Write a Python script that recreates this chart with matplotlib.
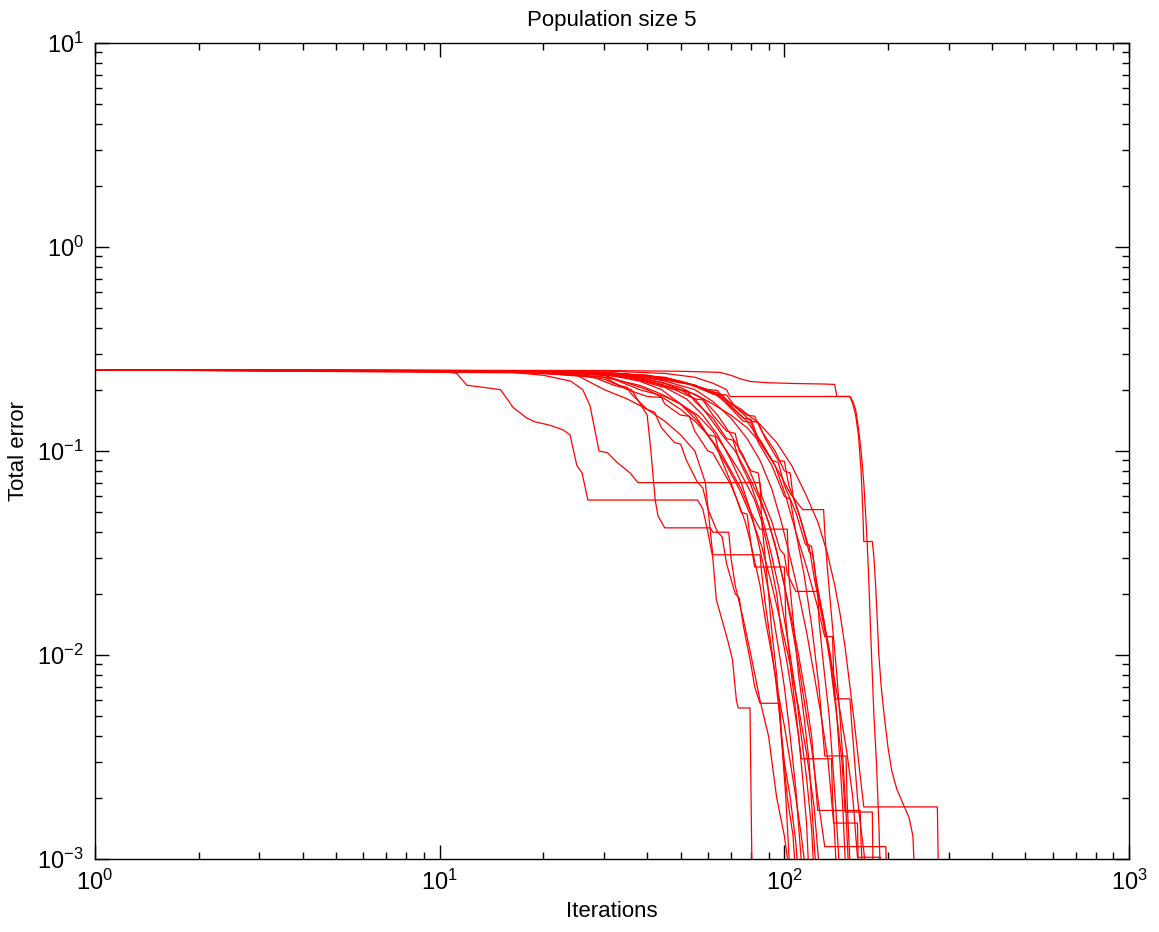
import numpy as np
import matplotlib
matplotlib.use('Agg')
import matplotlib.pyplot as plt
from matplotlib.ticker import LogLocator, LogFormatterMathtext, NullFormatter

plt.rcParams['font.family'] = ['Liberation Sans', 'DejaVu Sans']
plt.rcParams['mathtext.fontset'] = 'custom'
plt.rcParams['mathtext.rm'] = 'Liberation Sans'

#---------- runs (iteration, total error)
it01 = [1, 10, 11.2, 12, 15, 15.7, 16.3, 17.9, 18.9, 20.8, 22.8, 23.9, 25, 25.9, 26.9, 56, 58, 60, 62, 63.5, 66, 68.5, 70.7, 72.6, 73.5, 79.5, 80.6]
er01 = [.25, .248, .24, .21, .2, .18, .164, .145, .139, .134, .127, .12, .085, .078, .0575, .0575, .052, .04, .03, .0186, .0148, .0118, .0095, .006, .0055, .0055, .0008]
it02 = [1, 15, 20, 24, 26, 27.3, 29, 30.7, 32.7, 35.7, 37.6, 85, 86, 88, 90, 92, 95, 98, 101, 104]
er02 = [.25, .246, .235, .22, .2, .167, .1, .098, .088, .078, .07, .07, .045, .03, .02, .013, .008, .004, .002, .0008]
it03 = [1, 12, 20, 28, 32, 36, 40, 41, 42.2, 43, 45, 61, 62, 69, 70, 72, 76, 80, 85, 90, 95, 100, 104]
er03 = [.25, .248, .24, .23, .21, .2, .15, .1, .0575, .048, .042, .042, .040, .040, .03, .022, .015, .01, .006, .004, .002, .0013, .0008]
it04 = [1, 15, 25, 30, 33, 35, 36, 40, 42, 44, 48, 50, 52, 56, 58, 60, 64, 66, 68, 72, 74, 76, 80, 82, 85, 97, 98, 102, 106, 108]
er04 = [.25, .247, .235, .225, .21, .205, .19, .16, .155, .13, .11, .108, .09, .07, .066, .052, .04, .038, .028, .02, .019, .014, .009, .007, .0058, .0058, .004, .002, .0013, .0008]
it05 = [1, 15, 25, 30, 35, 40, 45, 50, 55, 59, 62, 85, 86, 88, 91, 94, 97, 100, 104, 108, 110]
er05 = [.25, .247, .235, .2, .18, .16, .14, .12, .1, .07, .031, .031, .025, .018, .012, .008, .005, .003, .002, .0012, .0008]
it06 = [1, 20, 30, 35, 40, 44, 45, 50, 53, 55, 60, 62, 65, 70, 73, 77, 80, 82, 100, 101, 104, 107, 110, 113, 116, 118]
er06 = [.25, .243, .23, .2, .185, .183, .17, .15, .148, .125, .1, .098, .085, .068, .0575, .045, .035, .027, .027, .015, .009, .006, .004, .0025, .0015, .0008]
it07 = [1, 20, 30, 40, 45, 50, 55, 60, 65, 70, 75, 80, 85, 102, 103, 106, 110, 114, 118, 121, 124]
er07 = [.25, .245, .235, .2, .18, .16, .14, .12, .1, .08, .065, .05, .0414, .0414, .025, .015, .008, .005, .003, .0015, .0008]
it08 = [1, 20, 30, 38, 45, 50, 56, 62, 68, 74, 78, 82, 86, 90, 95, 98, 102, 106, 110, 112, 137, 138, 140, 142]
er08 = [.25, .246, .235, .2, .185, .17, .15, .125, .1, .08, .068, .0575, .045, .032, .02, .013, .009, .006, .004, .0031, .0031, .002, .0013, .0008]
it09 = [1, 20, 35, 45, 55, 62, 70, 78, 85, 92, 98, 104, 113, 130, 131, 133, 136, 139, 142, 145, 148, 151, 154]
er09 = [.25, .246, .235, .21, .19, .17, .15, .13, .11, .09, .075, .062, .0516, .0516, .04, .028, .018, .012, .008, .005, .003, .0017, .0008]
it10 = [1, 20, 30, 40, 48, 55, 58, 62, 68, 72, 74, 80, 84, 86, 92, 97, 100, 102, 108, 125, 126, 129, 132, 135, 138, 141, 145]
er10 = [.25, .247, .24, .22, .2, .18, .178, .15, .125, .122, .1, .08, .078, .06, .045, .033, .031, .025, .0205, .0205, .015, .01, .007, .005, .003, .0018, .0008]
it11 = [1, 20, 35, 45, 50, 55, 60, 66, 72, 78, 84, 90, 95, 100, 105, 110, 115, 120, 125, 166, 167, 169]
er11 = [.25, .246, .235, .215, .2, .18, .15, .12, .1, .078, .06, .045, .032, .022, .015, .01, .0065, .004, .00173, .00173, .0012, .0008]
it12 = [1, 25, 40, 55, 62, 66, 70, 78, 82, 86, 94, 100, 104, 106, 112, 118, 121, 124, 130, 136, 140, 155, 157, 160, 163, 166, 170, 173]
er12 = [.25, .245, .23, .21, .19, .188, .17, .15, .148, .125, .1, .08, .078, .06, .045, .032, .031, .022, .015, .01, .0061, .0061, .0045, .003, .002, .0015, .0011, .0008]
it13 = [1, 20, 30, 40, 50, 58, 64, 70, 76, 82, 88, 94, 100, 105, 110, 115, 120, 125, 131, 197, 198]
er13 = [.25, .246, .238, .225, .205, .18, .15, .12, .095, .07, .05, .035, .022, .014, .009, .0055, .0035, .002, .00115, .00115, .0008]
it14 = [1, 25, 40, 50, 60, 64, 68, 76, 80, 84, 92, 96, 100, 108, 115, 118, 122, 128, 134, 140, 146, 152, 158, 163, 190, 191]
er14 = [.25, .245, .235, .22, .2, .198, .175, .145, .143, .115, .09, .088, .068, .05, .035, .034, .024, .016, .011, .0075, .005, .0033, .002, .00102, .00102, .0008]
it15 = [1, 20, 35, 45, 55, 62, 70, 78, 85, 92, 98, 104, 110, 116, 122, 128, 134, 139, 163, 164]
er15 = [.25, .247, .238, .22, .2, .175, .145, .115, .09, .065, .045, .03, .02, .013, .008, .005, .003, .0015, .0015, .0008]
it16 = [1, 30, 45, 55, 65, 68, 72, 80, 84, 88, 96, 100, 103, 110, 117, 120, 124, 130, 136, 142, 147, 150, 180, 181]
er16 = [.25, .24, .225, .21, .19, .188, .165, .14, .138, .115, .09, .089, .068, .05, .035, .034, .023, .015, .009, .005, .003, .0017, .0017, .0008]
it17 = [1, 30, 45, 55, 65, 75, 85, 95, 105, 115, 125, 133, 140, 145, 150, 155, 160, 165, 170, 278, 280]
er17 = [.25, .243, .23, .21, .185, .16, .135, .11, .085, .062, .045, .032, .022, .016, .011, .007, .0045, .0028, .0018, .0018, .0008]
it18 = [1, 30, 50, 65, 70, 75, 80, 90, 110, 130, 140, 142, 155, 158, 161, 164, 167, 169, 170, 180, 182, 184, 186, 188, 191, 195, 200, 205, 212, 220, 230, 236, 239]
er18 = [.25, .248, .246, .243, .235, .225, .219, .216, .214, .213, .212, .185, .185, .17, .15, .12, .08, .05, .036, .036, .03, .022, .015, .01, .007, .005, .0035, .0027, .0022, .0019, .0016, .0013, .0008]
it19 = [1, 30, 45, 55, 62, 68, 69.5, 155, 158, 161, 164, 167, 170, 172, 174, 176, 178, 180, 182, 185, 188, 190]
er19 = [.25, .247, .24, .23, .215, .2, .185, .185, .175, .16, .13, .1, .07, .05, .035, .022, .013, .008, .005, .003, .0015, .0008]
it20 = [1, 20, 30, 38, 44, 50, 55, 60, 63, 65, 70, 75, 78, 80, 85, 88, 92, 96, 100, 104, 108, 112, 116]
er20 = [.25, .245, .23, .21, .19, .17, .15, .12, .118, .095, .07, .05, .049, .035, .022, .015, .01, .0065, .0045, .003, .002, .0013, .0008]
it21 = [1, 25, 35, 42, 48, 52, 55, 62, 68, 71, 74, 80, 86, 91, 96, 100, 104, 108, 112, 116, 120, 122]
er21 = [.25, .245, .232, .215, .2, .198, .175, .145, .115, .113, .09, .068, .048, .033, .022, .015, .01, .0065, .004, .0025, .0014, .0008]
it22 = [1, 30, 45, 55, 63, 70, 78, 86, 94, 101, 108, 114, 120, 126, 131, 151, 152, 154, 156]
er22 = [.25, .244, .228, .21, .19, .165, .14, .11, .085, .06, .04, .025, .014, .007, .0032, .0032, .002, .0012, .0008]
it23 = [1, 25, 40, 52, 60, 64, 68, 76, 80, 84, 92, 100, 104, 108, 116, 124, 131, 138, 139, 142, 145, 148, 151]
er23 = [.25, .246, .235, .215, .195, .193, .17, .14, .138, .11, .085, .06, .058, .04, .027, .018, .0123, .0123, .008, .005, .003, .0017, .0008]
it24 = [1, 22, 35, 45, 52, 58, 64, 70, 75, 80, 84, 88, 92, 96, 100, 104, 108, 113]
er24 = [.25, .245, .23, .205, .18, .15, .12, .09, .07, .05, .036, .025, .017, .011, .007, .004, .0022, .0008]
it25 = [1, 20, 30, 38, 44, 50, 56, 62, 68, 74, 80, 86, 92, 98, 104, 110, 116, 122, 127]
er25 = [.25, .247, .238, .22, .2, .17, .14, .11, .085, .065, .048, .034, .022, .014, .009, .0055, .0033, .0018, .0008]

runs = [(it01, er01), (it02, er02), (it03, er03), (it04, er04), (it05, er05),
        (it06, er06), (it07, er07), (it08, er08), (it09, er09), (it10, er10),
        (it11, er11), (it12, er12), (it13, er13), (it14, er14), (it15, er15),
        (it16, er16), (it17, er17), (it18, er18), (it19, er19), (it20, er20),
        (it21, er21), (it22, er22), (it23, er23), (it24, er24), (it25, er25)]

#---------- plotting
fig = plt.figure(figsize=(11.59, 9.32), dpi=100)
ax = fig.add_axes([95/1159, 73/932, 1034/1159, 816/932])

for xx, yy in runs:
    ax.loglog(xx, yy, '-', color='r', linewidth=0.9)

ax.set_xlim(1, 1000)
ax.set_ylim(1e-3, 10)

ax.xaxis.set_major_locator(LogLocator(base=10, numticks=10))
ax.yaxis.set_major_locator(LogLocator(base=10, numticks=10))
ax.xaxis.set_minor_locator(LogLocator(base=10, subs=np.arange(2, 10), numticks=20))
ax.yaxis.set_minor_locator(LogLocator(base=10, subs=np.arange(2, 10), numticks=20))
ax.xaxis.set_major_formatter(LogFormatterMathtext())
ax.yaxis.set_major_formatter(LogFormatterMathtext())
ax.xaxis.set_minor_formatter(NullFormatter())
ax.yaxis.set_minor_formatter(NullFormatter())

ax.tick_params(which='both', direction='in', top=True, right=True, labelsize=17, width=1)
ax.tick_params(which='major', length=10, pad=8)
ax.tick_params(which='minor', length=5)
for s in ax.spines.values():
    s.set_linewidth(1.0)

ax.set_title('Population size 5', fontsize=16, pad=12)
ax.set_xlabel('Iterations', fontsize=16, labelpad=4)
ax.set_ylabel('Total error', fontsize=16, labelpad=6)

fig.savefig('out.png', dpi=100)
